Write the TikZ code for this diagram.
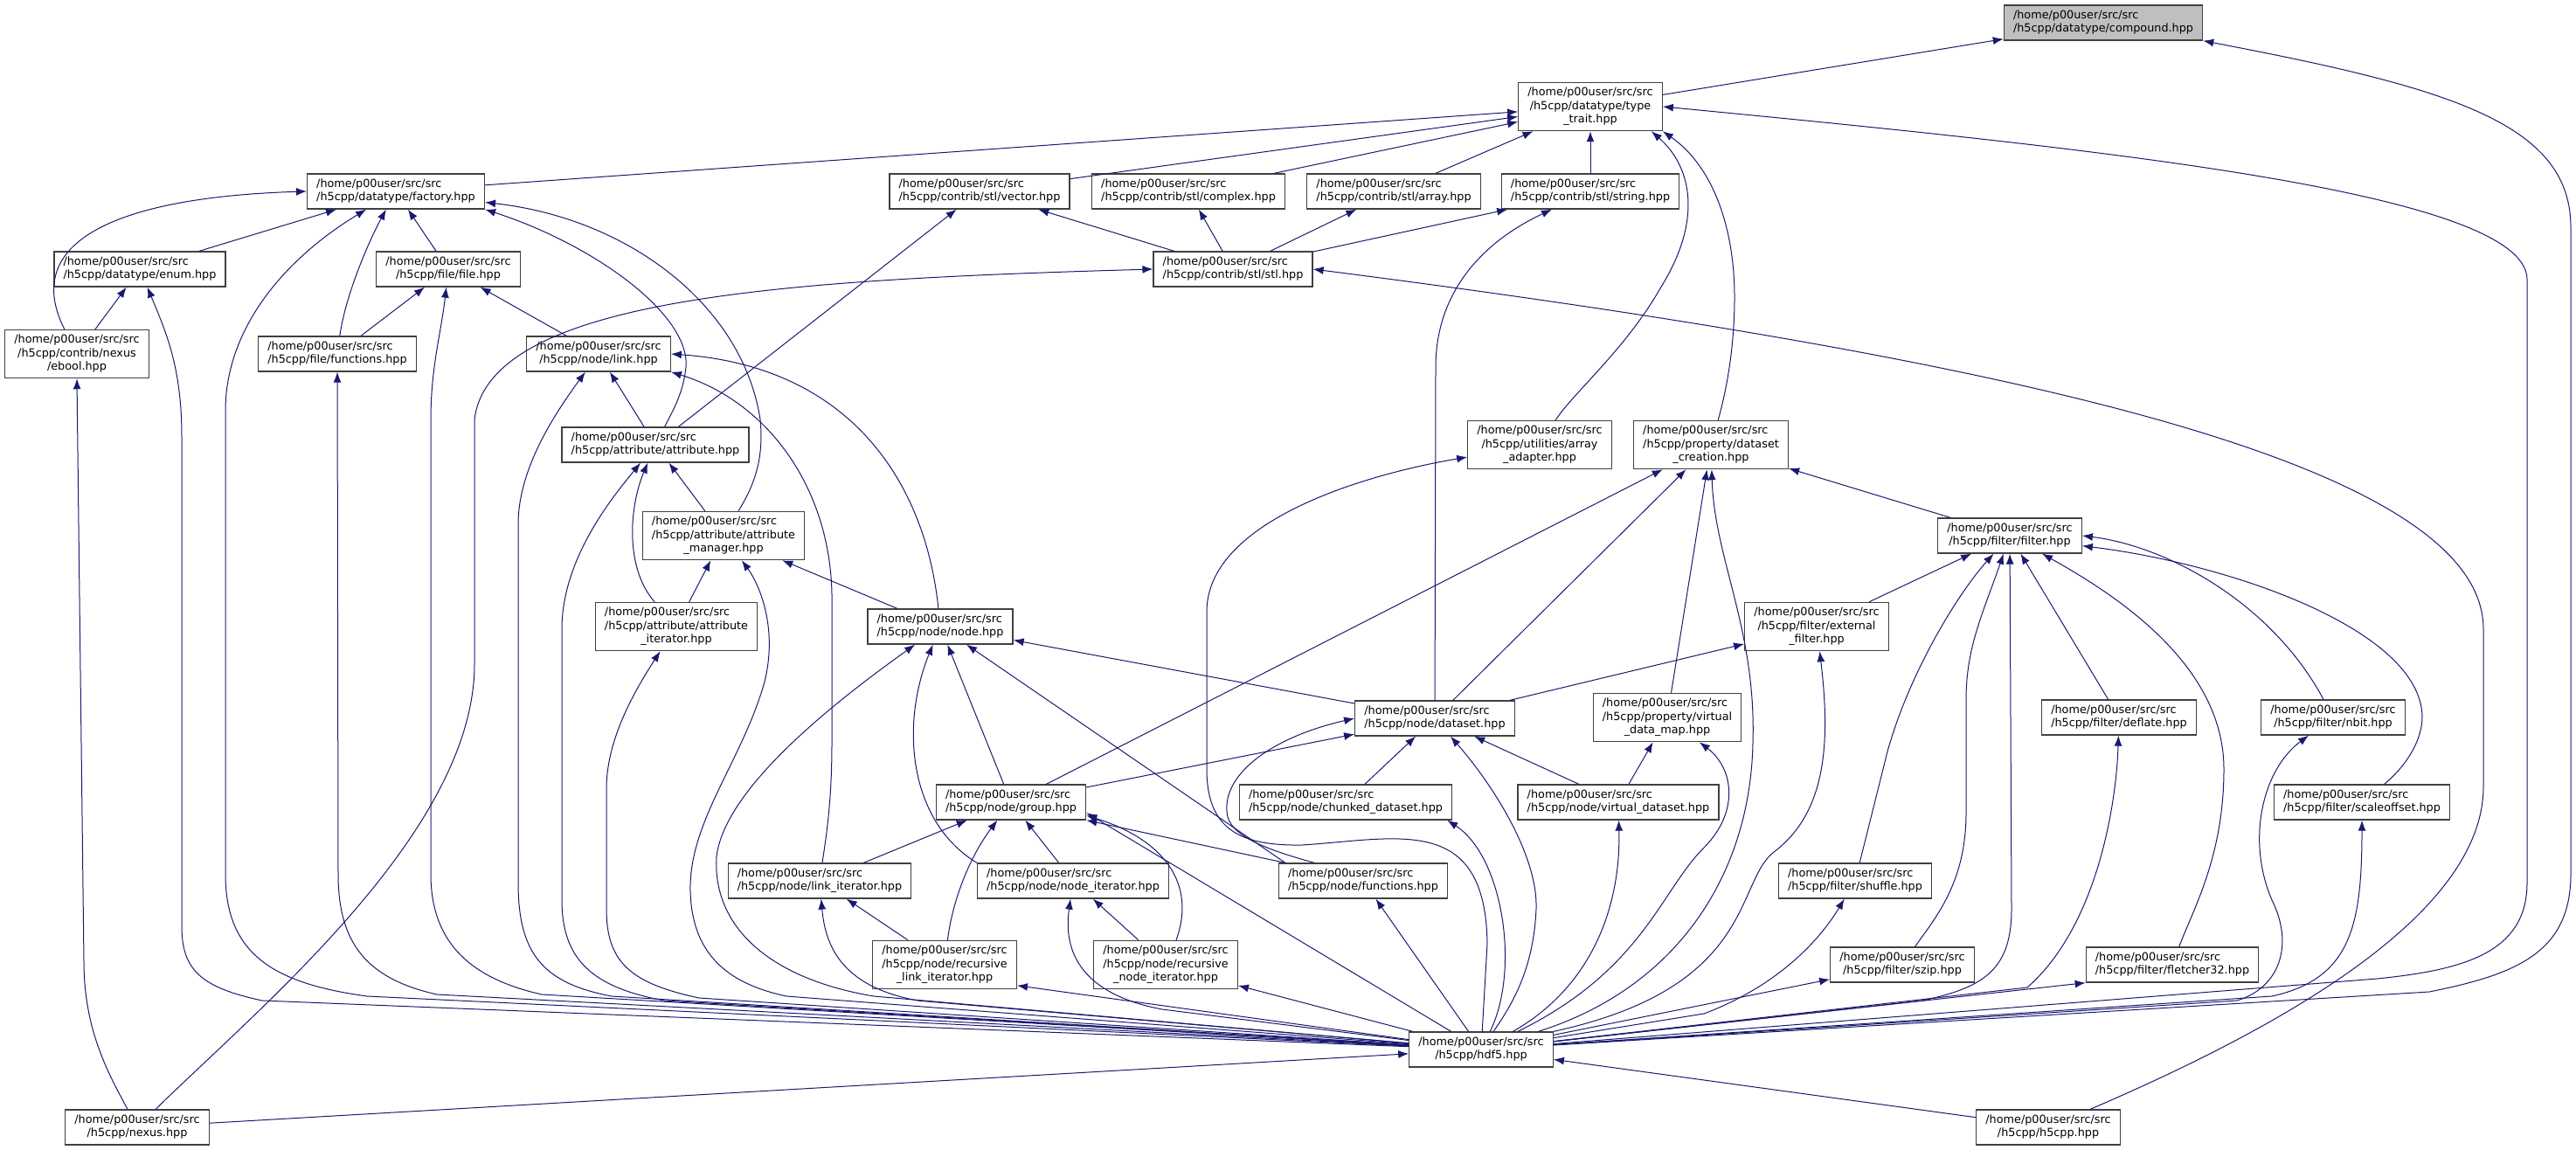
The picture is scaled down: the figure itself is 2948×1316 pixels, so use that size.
\documentclass[tikz, border = 0pt]{standalone}
\usepackage{fontspec}
\setmainfont{DejaVu Sans}
\usetikzlibrary{arrows.meta}

\definecolor{midnight}{RGB}{25, 25, 112}

% Two or three line header label, first line left, the rest centred

\newcommand{\hdr}[1]{\begin{tabular}{@{}c@{}}\multicolumn{1}{@{}l@{}}{/home/p00user/src/src}\\#1\end{tabular}}

\begin{document}
\begin{tikzpicture}[x = 0.5pt, y = -0.5pt, > = {Latex[length = 6pt, width = 4.5pt]},
	header/.style = {draw = black!75, line width = 0.65pt, fill = white, inner xsep = 5.3pt, inner ysep = 2.4pt, font = {\fontsize{6.4}{7.6}\selectfont}},
	current/.style = {header, fill = black!25},
	incl/.style = {<-, midnight, line width = 0.5pt}]

	\useasboundingbox (0, 0) rectangle (2948, 1316);

	% Headers, rank by rank

	\node [current] (compound) at (2407, 26) {\hdr{/h5cpp/datatype/compound.hpp}};
	\node [header] (typetrait) at (1820, 122) {\hdr{/h5cpp/datatype/type\\\_trait.hpp}};

	\node [header] (factory) at (453, 219) {\hdr{/h5cpp/datatype/factory.hpp}};
	\node [header] (vector) at (1121, 219) {\hdr{/h5cpp/contrib/stl/vector.hpp}};
	\node [header] (complex) at (1360, 219) {\hdr{/h5cpp/contrib/stl/complex.hpp}};
	\node [header] (array) at (1595, 219) {\hdr{/h5cpp/contrib/stl/array.hpp}};
	\node [header] (string) at (1820, 219) {\hdr{/h5cpp/contrib/stl/string.hpp}};

	\node [header] (enum) at (160, 308) {\hdr{/h5cpp/datatype/enum.hpp}};
	\node [header] (file) at (513, 308) {\hdr{/h5cpp/file/file.hpp}};
	\node [header] (stl) at (1411, 308) {\hdr{/h5cpp/contrib/stl/stl.hpp}};

	\node [header] (ebool) at (88, 405) {\hdr{/h5cpp/contrib/nexus\\/ebool.hpp}};
	\node [header] (ffunctions) at (386, 405) {\hdr{/h5cpp/file/functions.hpp}};
	\node [header] (link) at (685, 405) {\hdr{/h5cpp/node/link.hpp}};

	\node [header] (attribute) at (750, 509) {\hdr{/h5cpp/attribute/attribute.hpp}};
	\node [header] (arradapter) at (1762, 509) {\hdr{/h5cpp/utilities/array\\\_adapter.hpp}};
	\node [header] (dcreation) at (1958, 509) {\hdr{/h5cpp/property/dataset\\\_creation.hpp}};

	\node [header] (attrmanager) at (828, 613) {\hdr{/h5cpp/attribute/attribute\\\_manager.hpp}};
	\node [header] (filter) at (2300, 613) {\hdr{/h5cpp/filter/filter.hpp}};

	\node [header] (attriterator) at (774, 717) {\hdr{/h5cpp/attribute/attribute\\\_iterator.hpp}};
	\node [header] (nodeh) at (1076, 717) {\hdr{/h5cpp/node/node.hpp}};
	\node [header] (extfilter) at (2079, 717) {\hdr{/h5cpp/filter/external\\\_filter.hpp}};

	\node [header] (dataset) at (1642, 822) {\hdr{/h5cpp/node/dataset.hpp}};
	\node [header] (vdatamap) at (1908, 821) {\hdr{/h5cpp/property/virtual\\\_data\_map.hpp}};
	\node [header] (deflate) at (2425, 821) {\hdr{/h5cpp/filter/deflate.hpp}};
	\node [header] (nbit) at (2670, 821) {\hdr{/h5cpp/filter/nbit.hpp}};

	\node [header] (group) at (1157, 918) {\hdr{/h5cpp/node/group.hpp}};
	\node [header] (chunked) at (1540, 918) {\hdr{/h5cpp/node/chunked\_dataset.hpp}};
	\node [header] (vdataset) at (1852, 918) {\hdr{/h5cpp/node/virtual\_dataset.hpp}};
	\node [header] (scaleoffset) at (2703, 918) {\hdr{/h5cpp/filter/scaleoffset.hpp}};

	\node [header] (linkiter) at (938, 1008) {\hdr{/h5cpp/node/link\_iterator.hpp}};
	\node [header] (nodeiter) at (1228, 1008) {\hdr{/h5cpp/node/node\_iterator.hpp}};
	\node [header] (nfunctions) at (1560, 1008) {\hdr{/h5cpp/node/functions.hpp}};
	\node [header] (shuffle) at (2123, 1008) {\hdr{/h5cpp/filter/shuffle.hpp}};

	\node [header] (reclinkiter) at (1081, 1104) {\hdr{/h5cpp/node/recursive\\\_link\_iterator.hpp}};
	\node [header] (recnodeiter) at (1334, 1104) {\hdr{/h5cpp/node/recursive\\\_node\_iterator.hpp}};
	\node [header] (szip) at (2177, 1104) {\hdr{/h5cpp/filter/szip.hpp}};
	\node [header] (fletcher) at (2486, 1104) {\hdr{/h5cpp/filter/fletcher32.hpp}};

	\node [header] (hdf5) at (1695, 1201) {\hdr{/h5cpp/hdf5.hpp}};

	\node [header] (nexus) at (157, 1290) {\hdr{/h5cpp/nexus.hpp}};
	\node [header] (h5cpp) at (2344, 1290) {\hdr{/h5cpp/h5cpp.hpp}};

	% Straight includes, arrow at the included header

	\foreach \a/\b in {compound/typetrait, typetrait/factory, typetrait/vector, typetrait/complex, typetrait/array, typetrait/string,
		factory/enum, factory/file, vector/stl, vector/attribute, complex/stl, array/stl, string/stl, enum/ebool, file/ffunctions, file/link,
		link/attribute, attribute/attrmanager, attrmanager/attriterator, attrmanager/nodeh, dcreation/group, dcreation/dataset,
		dcreation/vdatamap, dcreation/filter, filter/extfilter, filter/deflate, nodeh/group, nodeh/dataset, extfilter/dataset,
		dataset/group, dataset/chunked, dataset/vdataset, vdatamap/vdataset, group/linkiter, group/nodeiter, linkiter/reclinkiter,
		nodeiter/recnodeiter, nfunctions/hdf5, szip/hdf5, hdf5/nexus, hdf5/h5cpp}
	{
		\draw [incl] (\a) -- (\b);
	}

	\draw [incl] (nodeh) -- ([xshift = 4pt]nfunctions.north west);
	\draw [incl] (group.south east) -- ([xshift = 4pt]nfunctions.north west);
	\draw [incl] (group.-8) -- (hdf5);
	\draw [incl] (reclinkiter.-16) -- (hdf5);
	\draw [incl] (recnodeiter.-16) -- (hdf5);
	\draw [incl] (fletcher.south west) -- (hdf5);

	% Long includes down the right margin

	\draw [incl] (compound.south east) .. controls (2800, 100) and (2942, 140) .. (2942, 260) -- (2942, 1000) .. controls (2942, 1090) and (2880, 1115) .. (2780, 1135) -- (hdf5);
	\draw [incl] (typetrait.east) .. controls (2400, 170) and (2892, 220) .. (2892, 320) -- (2892, 1010) .. controls (2892, 1090) and (2820, 1110) .. (2720, 1120) -- (hdf5);
	\draw [incl] (stl.east) .. controls (2300, 410) and (2842, 530) .. (2842, 720) -- (2842, 900) .. controls (2842, 1050) and (2600, 1180) .. (h5cpp);

	% Datatype factory

	\draw [incl] (factory.west) .. controls (150, 225) and (20, 270) .. (ebool);
	\draw [incl] (factory) .. controls (420, 280) and (395, 340) .. (ffunctions);
	\draw [incl] (factory.-7) .. controls (720, 250) and (850, 350) .. (870, 480) .. controls (875, 530) and (860, 560) .. (attrmanager);
	\draw [incl] (factory.south east) .. controls (680, 280) and (790, 360) .. (785, 420) .. controls (782, 450) and (770, 470) .. (attribute);
	\draw [incl] (factory) .. controls (320, 300) and (258, 380) .. (258, 470) -- (258, 1000) .. controls (258, 1090) and (310, 1125) .. (420, 1140) -- (hdf5);

	% Left hand side down to hdf5

	\draw [incl] (enum) .. controls (190, 380) and (208, 420) .. (208, 500) -- (208, 1060) .. controls (208, 1110) and (230, 1130) .. (300, 1145) -- (hdf5);
	\draw [incl] (file) .. controls (505, 380) and (493, 420) .. (493, 480) -- (493, 1000) .. controls (493, 1080) and (540, 1120) .. (620, 1138) -- (hdf5);
	\draw [incl] (ffunctions) -- (387, 1000) .. controls (387, 1080) and (420, 1120) .. (500, 1138) -- (hdf5);
	\draw [incl] (link) .. controls (630, 480) and (593, 540) .. (593, 600) -- (593, 1010) .. controls (593, 1090) and (620, 1125) .. (700, 1140) -- (hdf5);
	\draw [incl] (stl.west) .. controls (900, 320) and (560, 340) .. (543, 480) -- (543, 760) .. controls (543, 950) and (300, 1150) .. (nexus);
	\draw [incl] (ebool.south) -- (96, 1100) .. controls (96, 1180) and (125, 1230) .. (nexus);

	% Link and attributes

	\draw [incl] (link.east) .. controls (980, 420) and (1060, 560) .. (nodeh);
	\draw [incl] (link.south east) .. controls (880, 460) and (950, 560) .. (952, 680) -- (952, 850) .. controls (952, 920) and (945, 960) .. (linkiter);
	\draw [incl] (attribute) .. controls (700, 570) and (643, 640) .. (643, 720) -- (643, 1030) .. controls (643, 1100) and (680, 1130) .. (760, 1145) -- (hdf5);
	\draw [incl] (attribute) .. controls (720, 580) and (715, 650) .. (attriterator);
	\draw [incl] (attrmanager) .. controls (870, 670) and (890, 720) .. (875, 780) .. controls (850, 870) and (788, 940) .. (790, 1020) .. controls (792, 1090) and (830, 1125) .. (900, 1140) -- (hdf5);
	\draw [incl] (attriterator) .. controls (720, 800) and (695, 850) .. (694, 900) -- (694, 1040) .. controls (694, 1100) and (720, 1125) .. (800, 1142) -- (hdf5);

	% Node, group and iterators

	\draw [incl] (nodeh) .. controls (960, 800) and (830, 900) .. (820, 980) .. controls (815, 1060) and (880, 1120) .. (1000, 1140) -- (hdf5);
	\draw [incl] (nodeh) .. controls (1030, 830) and (1040, 940) .. (nodeiter.north west);
	\draw [incl] (group) .. controls (1110, 980) and (1090, 1030) .. (reclinkiter);
	\draw [incl] (group.-10) .. controls (1330, 960) and (1370, 1010) .. ([xshift = 6pt]recnodeiter.north);
	\draw [incl] (linkiter) .. controls (945, 1090) and (970, 1130) .. (1050, 1145) -- (hdf5);
	\draw [incl] (nodeiter) .. controls (1215, 1100) and (1250, 1140) .. (1330, 1155) -- (hdf5);

	% Type traits, string and property lists

	\draw [incl] (string) .. controls (1690, 280) and (1643, 340) .. (1643, 420) -- (dataset);
	\draw [incl] (typetrait.-22) .. controls (1935, 190) and (1950, 250) .. (1900, 330) .. controls (1860, 400) and (1800, 450) .. (arradapter);
	\draw [incl] (typetrait.south east) .. controls (1960, 190) and (1985, 260) .. (1985, 340) .. controls (1985, 400) and (1975, 450) .. (dcreation);
	\draw [incl] (arradapter) .. controls (1550, 545) and (1381, 600) .. (1381, 700) -- (1381, 880) .. controls (1381, 950) and (1420, 968) .. (1490, 967) .. controls (1600, 960) and (1700, 930) .. (1702, 1080) -- (hdf5);
	\draw [incl] (dcreation) .. controls (1962, 640) and (2010, 720) .. (2006, 850) .. controls (2003, 1000) and (1920, 1130) .. (hdf5);

	% Datasets

	\draw [incl] (dataset.west) .. controls (1450, 845) and (1395, 890) .. (1405, 935) .. controls (1412, 960) and (1460, 975) .. ([xshift = -28pt]nfunctions.north);
	\draw [incl] (dataset) .. controls (1710, 900) and (1760, 980) .. (1758, 1040) .. controls (1755, 1110) and (1730, 1150) .. (hdf5);
	\draw [incl] ([xshift = -3pt]chunked.south east) .. controls (1720, 980) and (1740, 1110) .. (hdf5);
	\draw [incl] (vdataset) .. controls (1855, 1040) and (1820, 1130) .. (hdf5);
	\draw [incl] (vdatamap) .. controls (1985, 880) and (1990, 930) .. (1950, 970) .. controls (1900, 1020) and (1880, 1110) .. (hdf5);
	\draw [incl] (extfilter) .. controls (2095, 850) and (2090, 930) .. (2030, 975) .. controls (1985, 1010) and (2010, 1130) .. (hdf5.north east);

	% Filters

	\draw [incl] (filter) .. controls (2240, 680) and (2185, 770) .. (2160, 860) .. controls (2145, 920) and (2135, 960) .. (shuffle);
	\draw [incl] (filter) .. controls (2270, 700) and (2250, 740) .. (2250, 800) -- (2250, 930) .. controls (2250, 1010) and (2215, 1050) .. (szip);
	\draw [incl] (filter) -- (2302, 1040) .. controls (2302, 1110) and (2270, 1130) .. (2200, 1145) -- (hdf5);
	\draw [incl] (filter) .. controls (2420, 680) and (2545, 760) .. (2545, 880) .. controls (2545, 980) and (2510, 1040) .. (fletcher);
	\draw [incl] (filter.east) .. controls (2480, 625) and (2600, 690) .. (nbit);
	\draw [incl] (filter.-8) .. controls (2550, 645) and (2770, 720) .. (2772, 820) .. controls (2772, 850) and (2750, 880) .. (scaleoffset);

	\draw [incl] (deflate) .. controls (2422, 920) and (2400, 1060) .. (2320, 1130) -- (hdf5);
	\draw [incl] (nbit) .. controls (2590, 880) and (2570, 960) .. (2600, 1030) .. controls (2625, 1080) and (2610, 1130) .. (2560, 1145) -- (hdf5);
	\draw [incl] (scaleoffset) .. controls (2703, 1060) and (2690, 1120) .. (2600, 1140) -- (hdf5);
	\draw [incl] (shuffle) .. controls (2080, 1080) and (2030, 1130) .. (1950, 1160) -- (hdf5);

\end{tikzpicture}
\end{document}
